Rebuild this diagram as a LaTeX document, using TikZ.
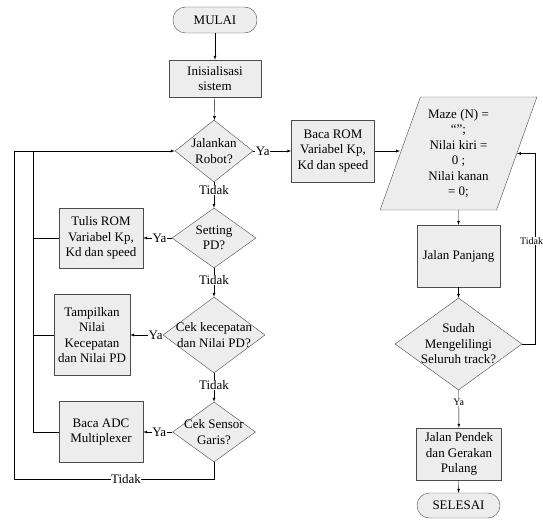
\documentclass[tikz,border=0pt]{standalone}
\usepackage{fontspec}
\setmainfont{Liberation Serif}
\usetikzlibrary{shapes.geometric}
\tikzset{
  proses/.style={draw=black!70, fill=black!7, rectangle, align=center, inner sep=1pt},
  keputusan/.style={draw=black!70, fill=black!7, diamond, inner sep=0pt},
  terminal/.style={draw=black!70, fill=black!7, rectangle, rounded corners=12.5pt, minimum width=84pt, minimum height=26pt},
  ket/.style={fill=white, inner sep=0.5pt},
  ketkecil/.style={fill=white, inner sep=0.5pt, font=\fontsize{10}{12}\selectfont},
}
\begin{document}
\begin{tikzpicture}[x=1pt, y=-1pt, font=\fontsize{13}{15.5}\selectfont, >=latex]
\useasboundingbox (0,0) rectangle (543,519);
% kolom kiri
\node[terminal] (mulai) at (215,20) {MULAI};
\node[proses, minimum width=92pt, minimum height=37pt] (init) at (215,78.5) {Inisialisasi\\sistem};
\node[keputusan, minimum width=78pt, minimum height=62pt, label={[align=center]center:{Jalankan\\Robot?}}] (jalan) at (214,151) {};
\node[keputusan, minimum width=84pt, minimum height=60pt, label={[align=center]center:{Setting\\PD?}}] (setting) at (214,238) {};
\node[keputusan, minimum width=102pt, minimum height=76pt, label={[align=center]center:{Cek kecepatan\\dan Nilai PD?}}] (cek) at (214,335) {};
\node[keputusan, minimum width=83pt, minimum height=60pt, label={[align=center]center:{Cek Sensor\\Garis?}}] (sensor) at (214,432) {};
\node[proses, minimum width=84pt, minimum height=60pt] (tulis) at (101,238) {Tulis ROM\\Variabel Kp,\\Kd dan speed};
\node[proses, minimum width=76pt, minimum height=81pt] (tampil) at (92,335) {Tampilkan\\Nilai\\Kecepatan\\dan Nilai PD};
\node[proses, minimum width=84pt, minimum height=61pt] (adc) at (101,432) {Baca ADC\\Multiplexer};
% kolom kanan
\node[proses, minimum width=83pt, minimum height=62pt] (bacarom) at (333,151) {Baca ROM\\Variabel Kp,\\Kd dan speed};
\node[draw=black!70, fill=black!7, trapezium, trapezium left angle=70, trapezium right angle=110, trapezium stretches, minimum width=157pt, minimum height=113pt, align=center, inner sep=0pt] (maze) at (458.5,153.5) {Maze (N) =\\“”;\\Nilai kiri =\\0 ;\\Nilai kanan\\= 0;};
\node[proses, minimum width=83pt, minimum height=62pt] (panjang) at (458.5,256) {Jalan Panjang};
\node[keputusan, minimum width=127pt, minimum height=92pt, label={[align=center]center:{Sudah\\Mengelilingi\\Seluruh track?}}] (sudah) at (458.5,344) {};
\node[proses, minimum width=85pt, minimum height=52pt] (pendek) at (459,454) {Jalan Pendek\\dan Gerakan\\Pulang};
\node[terminal, minimum width=83pt, minimum height=25pt] (selesai) at (458.5,505.5) {SELESAI};
\coordinate (kiri) at (14,479);
\coordinate (dalam) at (33,151);
\coordinate (kanan) at (535,344);
% panah
\draw[->] (mulai) -- (init);
\draw[->] (init) -- (jalan);
\draw[->] (jalan) -- node[ket, pos=0.25]{Ya} (bacarom);
\draw[->] (bacarom.east) -- (bacarom.east -| maze.left side);
\draw[->] (jalan) -- node[ket, pos=0.3]{Tidak} (setting);
\draw[->] (setting) -- node[ket, pos=0.4]{Tidak} (cek);
\draw[->] (cek) -- node[ket, pos=0.4]{Tidak} (sensor);
\draw[->] (setting) -- node[ket, pos=0.43]{Ya} (tulis);
\draw[->] (cek) -- node[ket, pos=0.22]{Ya} (tampil);
\draw[->] (sensor) -- node[ket, pos=0.45]{Ya} (adc);
\draw[->] (sensor.south) |- node[ket, pos=0.72]{Tidak} (kiri) |- (jalan.west);
\draw (adc.west) -| (dalam);
\draw (tulis.west) -- (tulis.west -| dalam);
\draw (tampil.west) -- (tampil.west -| dalam);
\draw[->] (maze) -- (panjang);
\draw[->] (panjang) -- (sudah);
\draw[->] (sudah.east) -- (kanan) |- node[ketkecil, pos=0.27, xshift=-3.5pt]{Tidak} (maze.right side);
\draw[->] (sudah) -- node[ketkecil, pos=0.32]{Ya} (pendek);
\draw[->] (pendek) -- (selesai);
\end{tikzpicture}
\end{document}
